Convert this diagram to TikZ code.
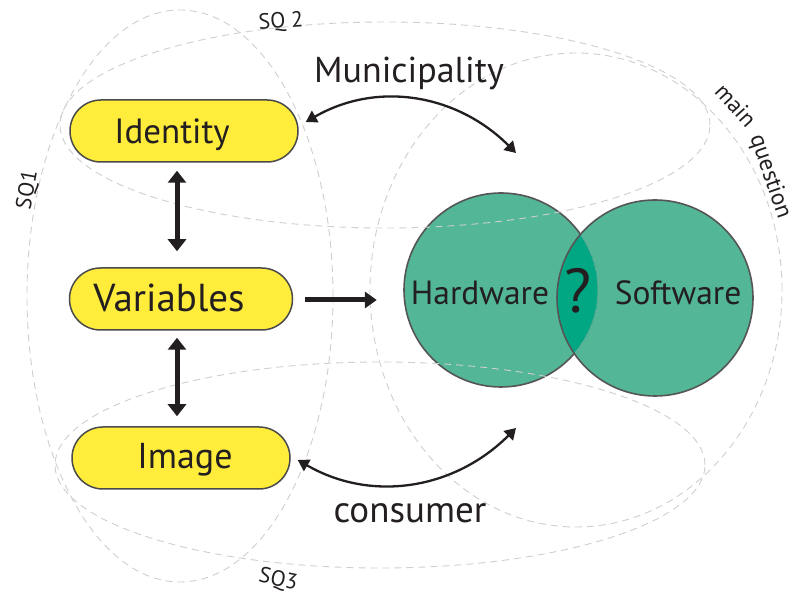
\documentclass[tikz,border=0pt]{standalone}
\usepackage{fontspec}
\setmainfont{PT Sans}
\usetikzlibrary{shapes.misc,arrows.meta}
\definecolor{pillfill}{HTML}{FFEC3B}
\definecolor{pilldraw}{HTML}{4A4A4A}
\definecolor{circfill}{HTML}{52B697}
\definecolor{lensfill}{HTML}{00A782}
\definecolor{circdraw}{HTML}{555555}
\definecolor{ink}{HTML}{231F20}
\definecolor{dashc}{HTML}{CFCFCF}
\begin{document}
\begin{tikzpicture}[x=1pt,y=1pt,
  pill/.style={rounded rectangle, draw=pilldraw, line width=1.5pt, fill=pillfill,
    minimum height=62pt, inner sep=0pt, text depth=0pt, text=ink},
  zone/.style={draw=dashc, line width=0.9pt, dash pattern=on 7pt off 5pt},
  thickarrow/.style={draw=ink, line width=5pt,
    {Triangle[width=18pt,length=12pt]}-{Triangle[width=18pt,length=12pt]}},
  onearrow/.style={draw=ink, line width=5pt, -{Triangle[width=16pt,length=12pt]}},
  curvarrow/.style={draw=ink, line width=2.3pt,
    {Triangle[width=13pt,length=11pt]}-{Triangle[width=13pt,length=11pt]}},
  lbl/.style={text=ink, inner sep=0pt, anchor=base},
  small/.style={text=ink, inner sep=0pt, font=\fontsize{22}{22}\selectfont}
]
\fill[white] (0,0) rectangle (799,596);
\useasboundingbox (0,0) rectangle (799,596);

% circles
\node[circle, minimum size=194pt, inner sep=0pt, fill=circfill] (hw) at (501,306) {};
\node[circle, minimum size=196pt, inner sep=0pt, fill=circfill] (sw) at (655,298) {};
\begin{scope}
  \clip (hw.center) circle (97);
  \fill[lensfill] (sw.center) circle (98);
  \draw[gray!70, line width=0.6pt] (hw.center) circle (97);
\end{scope}
\begin{scope}
  \clip (0,0) rectangle (799,596) (sw.center) circle (98);
  \draw[circdraw, line width=1.6pt] (hw.center) circle (97);
\end{scope}
\draw[circdraw, line width=1.6pt] (sw.center) circle (98);

% dashed zones
\draw[zone] (180,300) ellipse [x radius=153, y radius=286];
\draw[zone] (385,471) ellipse [x radius=325, y radius=103];
\draw[zone] (380,131) ellipse [x radius=325, y radius=103];
\draw[zone] (576,306) ellipse [x radius=206, y radius=237];

% zone labels
\node[small, rotate=80] (sq1) at (28,406) {SQ1};
\node[small, rotate=4] (sq2) at (281,574) {SQ 2};
\node[small, rotate=-12] (sq3) at (278,16) {SQ3};
\node[small, rotate=-48, font=\fontsize{23}{23}\selectfont] (mq1) at (736,491) {main};
\node[small, rotate=-71, font=\fontsize{23.5}{23.5}\selectfont] (mq2) at (770,419) {question};

% pills
\node[pill, minimum width=228pt, font=\fontsize{35}{35}\selectfont, text height=24.5pt] (identity) at (184,465) {\hspace*{-24pt}Identity};
\node[pill, minimum width=223pt, font=\fontsize{39}{39}\selectfont, text height=27.3pt, text depth=3pt] (variables) at (181,297) {\hspace*{-24pt}Variables};
\node[pill, minimum width=218pt, font=\fontsize{36}{36}\selectfont, text height=25.2pt, text depth=5pt] (image) at (181,138) {\hspace*{8pt}Image};

% circle texts
\node[lbl, font=\fontsize{33.5}{33.5}\selectfont] (hwT) at (480,291) {Hardware};
\node[lbl, font=\fontsize{33.5}{33.5}\selectfont] (swT) at (678,291) {Software};
\node[text=ink, inner sep=0pt, font=\fontsize{62}{62}\selectfont] (q) at (578,305) {?};

% edge labels
\node[lbl, font=\fontsize{36}{36}\selectfont] (muni) at (409,513) {Municipality};
\node[lbl, font=\fontsize{37}{37}\selectfont] (cons) at (410,73) {consumer};

% arrows
\draw[thickarrow, shorten <=8pt, shorten >=16pt] (identity.south -| 177,0) -- (variables.north -| 177,0);
\draw[thickarrow, shorten <=7pt, shorten >=10pt] (variables.south -| 177,0) -- (image.north -| 177,0);
\draw[onearrow, shorten <=12pt, shorten >=27pt] (variables.east |- 0,296) -- (hw.west |- 0,296);

\coordinate (mEnd) at (516,443);
\coordinate (cEnd) at (516,168);
\draw[curvarrow] ([xshift=7pt,yshift=9pt]identity.east) to[out=30, in=135] (mEnd);
\draw[curvarrow] ([xshift=7pt,yshift=-2pt]image.east) to[out=-30, in=-135] (cEnd);
\end{tikzpicture}
\end{document}
